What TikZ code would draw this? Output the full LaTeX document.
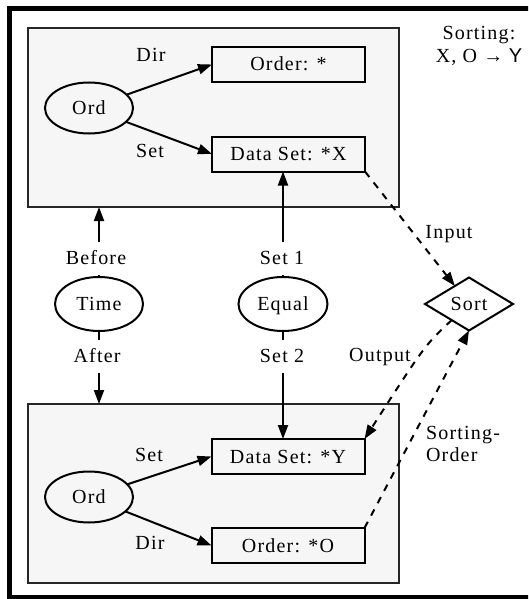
\documentclass[tikz,border=0pt]{standalone}
\usepackage{fontspec}
\setmainfont{Liberation Serif}[LetterSpace=6]
\setsansfont{Liberation Sans}
\usetikzlibrary{shapes.geometric,arrows.meta}
\begin{document}
\begin{tikzpicture}[x=1pt,y=-1pt,
  font=\fontsize{20}{22.4}\selectfont,
  every node/.style={inner sep=0pt, outer sep=0pt},
  tx/.style={text height=13pt, text depth=0pt},
  cluster/.style={draw=black!85, line width=2.2pt, fill=gray!7, minimum width=371pt, minimum height=179pt},
  box/.style={tx, draw, line width=2pt, rectangle, minimum width=153pt, minimum height=35pt},
  ell/.style={tx, draw, line width=2pt, ellipse, minimum width=88pt, minimum height=51pt},
  lbl/.style={tx},
  gap/.style={tx, fill=white, inner xsep=3pt, minimum height=33pt},
  arr/.style={line width=2pt, -{Triangle[length=14pt,width=10pt]}},
  dsh/.style={arr, dash pattern=on 7pt off 7pt},
]
\useasboundingbox (0,0) rectangle (528,599);
\begin{scope}
  \clip (0,0) rectangle (528,599);
  \draw[line width=5pt] (9.5,8.5) rectangle (600,597.5);
\end{scope}

% clusters
\node[cluster] (c1) at (213.5,117.5) {};
\node[cluster] (c2) at (213.5,493.5) {};

% nodes
\node[ell] (ord1) at (89,108) {Ord};
\node[box] (ordstar) at (288.5,64.5) {Order: *};
\node[box] (dsx) at (288.5,154) {Data Set: *X};
\node[ell] (ord2) at (89,497) {Ord};
\node[box] (dsy) at (288,456.5) {Data Set: *Y};
\node[box] (ordo) at (288,545.5) {Order: *O};
\node[ell, minimum height=54pt] (time) at (99,304) {Time};
\node[ell, minimum width=89pt, minimum height=54pt] (equal) at (283,304) {Equal};
\node[tx, draw, line width=2pt, diamond, aspect=1.66, minimum width=88pt, minimum height=53pt] (sort) at (469,304) {Sort};
\node[align=center] (sorthead) at (479,46) {Sorting:\\X, O {\sffamily → Y}};

% solid edges
\draw[arr] (ord1) -- (ordstar.west);
\draw[arr] (ord1) -- (dsx.west);
\draw[arr] (ord2) -- (dsy.west);
\draw[arr] (ord2) -- (ordo.west);
\draw[arr] (time) -- (time |- c1.south);
\draw[arr] (time) -- (time |- c2.north);
\draw[arr] (equal) -- (equal |- dsx.south);
\draw[arr] (equal) -- (equal |- dsy.north);

% edge labels
\node[lbl] (dir1) at (151,55) {Dir};
\node[lbl] (set1l) at (150,151) {Set};
\node[lbl] (set2l) at (149,455) {Set};
\node[lbl] (dir2) at (150,543) {Dir};
\node[gap] (before) at (96,258) {Before};
\node[gap] (after) at (97,356) {After};
\node[gap] (setone) at (282,258) {Set 1};
\node[gap] (settwo) at (282,356) {Set 2};

% dashed edges
\draw[dsh] (dsx.south east) -- (sort);
\draw[dsh] (sort) .. controls (425,345) .. (dsy.north east);
\draw[dsh] (ordo.north east) -- (sort.south);
\node[lbl] (input) at (449,232) {Input};
\node[lbl] (output) at (380,355) {Output};
\node[anchor=west, align=left] (sortord) at (426,444) {Sorting-\\Order};
\end{tikzpicture}
\end{document}
